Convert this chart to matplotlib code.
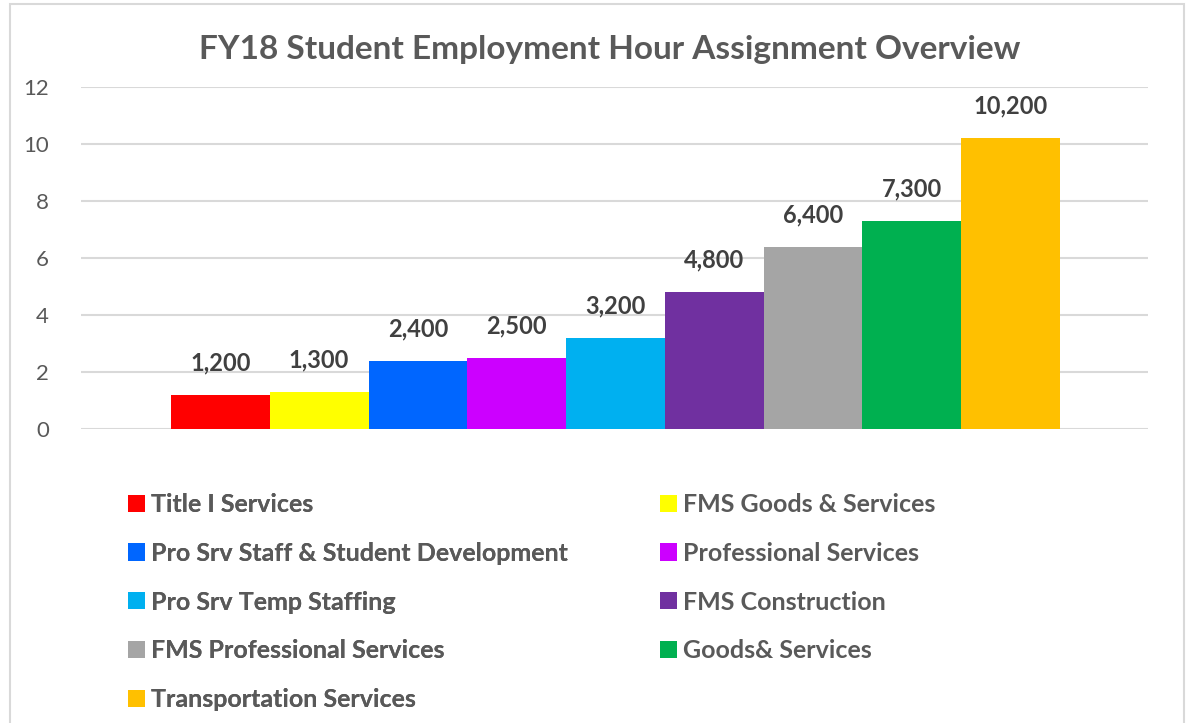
import matplotlib.pyplot as plt
from matplotlib.patches import Rectangle, Patch

plt.rcParams['font.family'] = ['Lato', 'DejaVu Sans']

categories = ['Title I Services', 'FMS Goods & Services',
              'Pro Srv Staff & Student Development', 'Professional Services',
              'Pro Srv Temp Staffing', 'FMS Construction',
              'FMS Professional Services', 'Goods& Services',
              'Transportation Services']
hours_k = [1.2, 1.3, 2.4, 2.5, 3.2, 4.8, 6.4, 7.3, 10.2]
labels = ['1,200', '1,300', '2,400', '2,500', '3,200', '4,800', '6,400', '7,300', '10,200']
colors = ['#FF0000', '#FFFF00', '#0066FF', '#CC00FF', '#00B0F0',
          '#7030A0', '#A5A5A5', '#00B050', '#FFC000']
yticks = [0, 2, 4, 6, 8, 10, 12]

W, H = 1188, 723
fig = plt.figure(figsize=(W / 100, H / 100), dpi=100)
fig.patches.append(Rectangle((10 / W, -0.01), 1174 / W, 1.01 - 4 / H,
                             transform=fig.transFigure, fill=False,
                             edgecolor='#d9d9d9', linewidth=1.5))

ax = fig.add_axes([81 / W, 294 / H, 1067 / W, 342 / H])
x = list(range(len(hours_k)))
ax.bar(x, hours_k, width=1.0, color=colors, zorder=3)
for xi, v, lab in zip(x, hours_k, labels):
    ax.annotate(lab, (xi, v), xytext=(0, 23), textcoords='offset points',
                ha='center', va='center', fontsize=17, fontweight='bold',
                color='#404040')

ax.set_xlim(-1.411, 9.391)
ax.set_ylim(0, 12)
ax.set_yticks(yticks)
ax.set_xticks([])
ax.yaxis.grid(True, color='#d9d9d9', linewidth=1.5, zorder=0)
ax.tick_params(axis='y', length=0, labelsize=16, labelcolor='#595959', pad=23)
for s in ax.spines.values():
    s.set_visible(False)

fig.text(610 / W, 1 - 50 / H, 'FY18 Student Employment Hour Assignment Overview',
         ha='center', va='center', fontsize=24, fontweight='bold', color='#595959')

handles = [Patch(facecolor=c, edgecolor='none') for c in colors]
left_idx = [0, 2, 4, 6, 8]
right_idx = [1, 3, 5, 7]
common = dict(frameon=False, handlelength=0.68, handleheight=0.68,
              handletextpad=0.25, labelspacing=1.03,
              prop={'size': 18, 'weight': 'bold'}, labelcolor='#595959',
              borderaxespad=0, borderpad=0)
leg1 = fig.legend([handles[i] for i in left_idx], [categories[i] for i in left_idx],
                  loc='upper left', bbox_to_anchor=(128 / W, 1 - 493 / H), **common)
fig.add_artist(leg1)
fig.legend([handles[i] for i in right_idx], [categories[i] for i in right_idx],
           loc='upper left', bbox_to_anchor=(660 / W, 1 - 493 / H), **common)

fig.savefig('out.png', dpi=100)
